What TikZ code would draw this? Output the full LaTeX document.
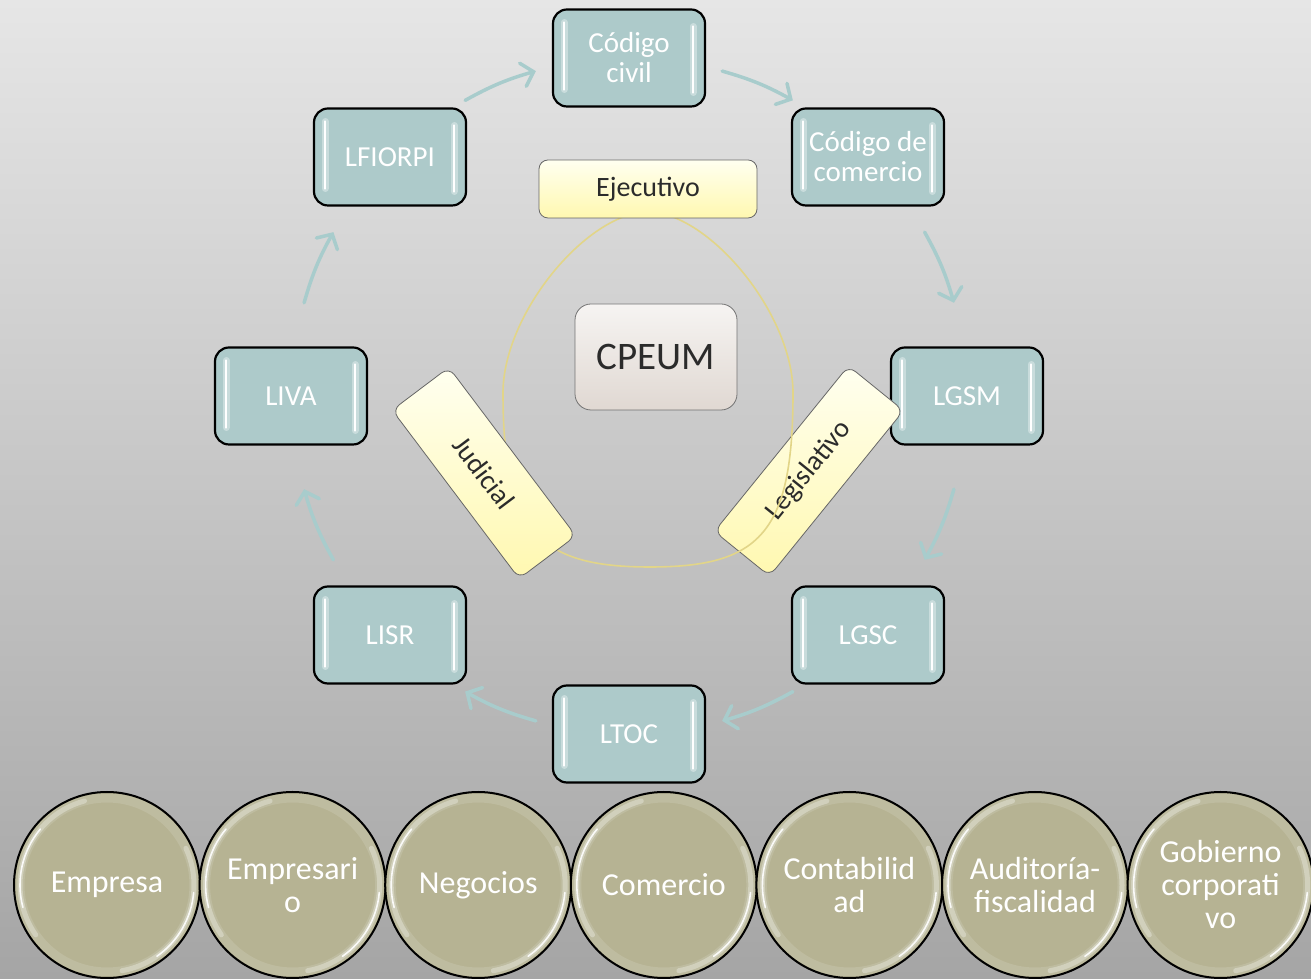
\documentclass[tikz,border=0pt]{standalone}
\usepackage{fontspec}
\setmainfont{Carlito}
\usetikzlibrary{arrows.meta, calc}

\definecolor{lawfill}{HTML}{ADCACA}
\definecolor{flowc}{HTML}{A8CCCC}
\definecolor{topicfill}{HTML}{B6B393}
\definecolor{powertop}{HTML}{FFFFF0}
\definecolor{powerbot}{HTML}{FFF8B0}
\definecolor{chieftop}{HTML}{F6F4F2}
\definecolor{chiefbot}{HTML}{E0D8D2}
\definecolor{ringc}{HTML}{E2D588}
\definecolor{inktext}{HTML}{2B2B2B}
\definecolor{bgtop}{HTML}{E6E6E6}
\definecolor{bgbot}{HTML}{A5A5A5}

\tikzset{
	lawbox/.style={draw=black, line width=2.2, fill=lawfill, rounded corners=14,
		minimum width=152, minimum height=97, inner sep=0, align=center,
		text=white, font=\fontsize{29}{30}\selectfont,
		path picture={
			\draw[white, opacity=.35, line width=7, line cap=round] ([shift={(11,-13)}]path picture bounding box.north west) -- ([shift={(11,17)}]path picture bounding box.south west);
			\draw[white, line width=2.6, line cap=round] ([shift={(11,-13)}]path picture bounding box.north west) -- ([shift={(11,17)}]path picture bounding box.south west);
			\draw[white, opacity=.35, line width=7, line cap=round] ([shift={(-12,-17)}]path picture bounding box.north east) -- ([shift={(-12,14)}]path picture bounding box.south east);
			\draw[white, line width=2.6, line cap=round] ([shift={(-12,-17)}]path picture bounding box.north east) -- ([shift={(-12,14)}]path picture bounding box.south east);
		}},
	topic/.style={circle, draw=black, line width=2, fill=topicfill, minimum size=186,
		inner sep=0, align=center, text=white, font=\fontsize{32}{33}\selectfont,
		path picture={
			\draw[white, opacity=.12, line width=9] (path picture bounding box.center) circle[radius=87];
			\draw[white, opacity=.3, line width=5, line cap=round] ([shift={(105:87)}]path picture bounding box.center) arc[start angle=105, end angle=215, radius=87];
			\draw[white, opacity=.9, line width=1.6, line cap=round] ([shift={(140:87)}]path picture bounding box.center) arc[start angle=140, end angle=195, radius=87];
			\draw[white, opacity=.3, line width=5, line cap=round] ([shift={(280:87)}]path picture bounding box.center) arc[start angle=280, end angle=385, radius=87];
			\draw[white, opacity=.9, line width=1.6, line cap=round] ([shift={(305:87)}]path picture bounding box.center) arc[start angle=305, end angle=355, radius=87];
		}},
	power/.style={draw=black!60, line width=.8, top color=powertop, bottom color=powerbot,
		rounded corners=9, inner sep=0, text=inktext, font=\fontsize{28}{30}\selectfont},
	chief/.style={draw=black!55, line width=.8, top color=chieftop, bottom color=chiefbot,
		rounded corners=16, minimum width=162, minimum height=106, inner sep=0,
		text=inktext, font=\fontsize{39}{40}\selectfont},
	flow/.style={draw=flowc, line width=3.5, line cap=round,
		-{Straight Barb[length=11pt, width=24pt, line cap=round]}},
}

\begin{document}
\begin{tikzpicture}[x=1pt, y=1pt]
	\fill[top color=bgtop, bottom color=bgbot] (0,0) rectangle (1311,979);
	\useasboundingbox (0,0) rectangle (1311,979);

	\coordinate (ring) at (629,583);

	% leyes alrededor
	\foreach \name/\ang/\txt in {civil/90/{Código\\civil}, comercio/45/{Código de\\comercio},
		lgsm/0/LGSM, lgsc/-45/LGSC, ltoc/-90/LTOC, lisr/-135/LISR, liva/180/LIVA, lfiorpi/135/LFIORPI}
		\node[lawbox] (\name) at ($(ring)+(\ang:338)$) {\txt};

	\foreach \a/\b in {civil/comercio, comercio/lgsm, lgsm/lgsc, lgsc/ltoc,
		ltoc/lisr, lisr/liva, liva/lfiorpi, lfiorpi/civil}
		\draw[flow] ($(ring)!1!-16:(\a)$) to[bend left=6.5] ($(ring)!1!16:(\b)$);

	% poderes
	\node[power, minimum width=213, minimum height=71, rotate=51] (legis) at (809,508) {Legislativo};
	\draw[ringc, line width=1.6] (648,767) .. controls (588,767) and (503,666) .. (503,586)
		.. controls (503,446) and (540,412) .. (650,412)
		.. controls (760,412) and (793,446) .. (793,586)
		.. controls (793,666) and (708,767) .. (648,767) -- cycle;
	\node[power, minimum width=211, minimum height=71, rotate=-53] (judicial) at (484,506) {Judicial};
	\node[power, minimum width=218, minimum height=58] (ejecutivo) at (648,790) {Ejecutivo};
	\node[chief] (cpeum) at (656,622) {CPEUM};

	% temas
	\foreach \i/\name/\txt in {0/empresa/Empresa, 1/empresario/{Empresari\\o}, 2/negocios/Negocios,
		3/comercio2/Comercio, 4/contab/{Contabilid\\ad}, 5/audit/{Auditoría-\\fiscalidad},
		6/gobierno/{Gobierno\\corporati\\vo}}
		\node[topic] (\name) at ({107+185.6*\i}, 94) {\txt};
\end{tikzpicture}
\end{document}
